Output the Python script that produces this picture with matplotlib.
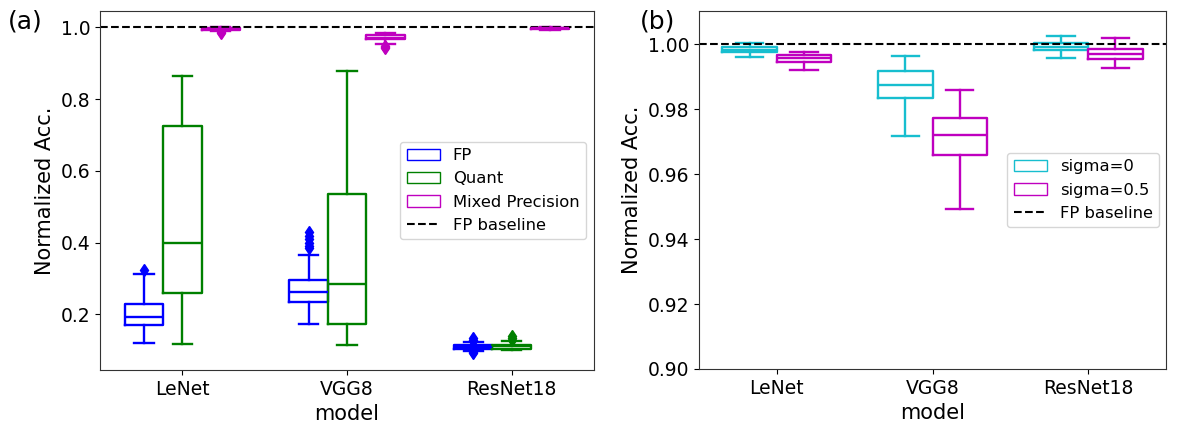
import matplotlib.pyplot as plt
from matplotlib.patches import Patch
from matplotlib.lines import Line2D

models = ["LeNet", "VGG8", "ResNet18"]

# panel (a): box stats per method, one entry per model
fp_whislo = [0.121, 0.174, 0.098]
fp_q1 = [0.170, 0.234, 0.1044]
fp_med = [0.1925, 0.262, 0.109]
fp_q3 = [0.229, 0.296, 0.1136]
fp_whishi = [0.3115, 0.367, 0.123]
fp_fliers = [[0.325], [0.385, 0.392, 0.40, 0.41, 0.42, 0.43], [0.092, 0.095, 0.126, 0.13, 0.133]]

quant_whislo = [0.118, 0.116, 0.100]
quant_q1 = [0.260, 0.174, 0.1025]
quant_med = [0.398, 0.284, 0.111]
quant_q3 = [0.726, 0.537, 0.1155]
quant_whishi = [0.865, 0.879, 0.126]
quant_fliers = [[], [], [0.13, 0.135, 0.14]]

mp_whislo = [0.990, 0.955, 0.994]
mp_q1 = [0.994, 0.967, 0.996]
mp_med = [0.996, 0.972, 0.998]
mp_q3 = [0.998, 0.978, 0.999]
mp_whishi = [1.0, 0.986, 1.0]
mp_fliers = [[0.986, 0.988], [0.942, 0.945, 0.948], []]

# panel (b)
s0_whislo = [0.996, 0.9717, 0.9957]
s0_q1 = [0.9975, 0.9834, 0.9982]
s0_med = [0.9983, 0.9874, 0.9992]
s0_q3 = [0.999, 0.9917, 1.0003]
s0_whishi = [1.0005, 0.9963, 1.0026]

s5_whislo = [0.9919, 0.9491, 0.9927]
s5_q1 = [0.9945, 0.9658, 0.9954]
s5_med = [0.9956, 0.972, 0.9971]
s5_q3 = [0.9966, 0.9773, 0.9985]
s5_whishi = [0.9976, 0.9859, 1.0018]

baseline = 1.0


def make_stats(lo, q1, med, q3, hi, fl=None):
    out = []
    for i in range(len(lo)):
        out.append({"whislo": lo[i], "q1": q1[i], "med": med[i], "q3": q3[i],
                    "whishi": hi[i], "fliers": fl[i] if fl else []})
    return out


def draw(ax, stats, offset, width, color):
    pos = [i + offset for i in range(len(stats))]
    lp = dict(color=color, linewidth=1.7)
    ax.bxp(stats, positions=pos, widths=width, capwidths=width / 2, manage_ticks=False,
           boxprops=lp, whiskerprops=lp, capprops=lp, medianprops=lp,
           flierprops=dict(marker="d", markerfacecolor=color, markeredgecolor=color, markersize=6))


fig = plt.figure(figsize=(11.78, 4.24), dpi=100)
ax1 = fig.add_axes([100 / 1178, 54 / 424, 494 / 1178, 359 / 424])
ax2 = fig.add_axes([699 / 1178, 55 / 424, 467 / 1178, 358 / 424])

w = 0.7 / 3
draw(ax1, make_stats(fp_whislo, fp_q1, fp_med, fp_q3, fp_whishi, fp_fliers), -w, w, "blue")
draw(ax1, make_stats(quant_whislo, quant_q1, quant_med, quant_q3, quant_whishi, quant_fliers), 0, w, "green")
draw(ax1, make_stats(mp_whislo, mp_q1, mp_med, mp_q3, mp_whishi, mp_fliers), w, w, "m")
ax1.axhline(baseline, color="black", linestyle="--", linewidth=1.5)
ax1.set_xlim(-0.5, 2.5)
ax1.set_ylim(0.045, 1.046)
ax1.set_yticks([0.2, 0.4, 0.6, 0.8, 1.0])

w2 = 0.35
draw(ax2, make_stats(s0_whislo, s0_q1, s0_med, s0_q3, s0_whishi), -w2 / 2, w2, "tab:cyan")
draw(ax2, make_stats(s5_whislo, s5_q1, s5_med, s5_q3, s5_whishi), w2 / 2, w2, "m")
ax2.axhline(baseline, color="black", linestyle="--", linewidth=1.5)
ax2.set_xlim(-0.5, 2.5)
ax2.set_ylim(0.90, 1.0102)
ax2.set_yticks([0.90, 0.92, 0.94, 0.96, 0.98, 1.00])

for ax in (ax1, ax2):
    ax.set_xticks(range(len(models)))
    ax.set_xticklabels(models)
    ax.tick_params(labelsize=13.5)
    ax.set_xlabel("model", fontsize=15)
    ax.set_ylabel("Normalized Acc.", fontsize=15)
    for s in ax.spines.values():
        s.set_color("#333333")
ax2.yaxis.set_major_formatter(plt.FormatStrFormatter("%.2f"))

h1 = [Patch(facecolor="none", edgecolor="blue", label="FP"),
      Patch(facecolor="none", edgecolor="green", label="Quant"),
      Patch(facecolor="none", edgecolor="m", label="Mixed Precision"),
      Line2D([], [], color="black", linestyle="--", label="FP baseline")]
ax1.legend(handles=h1, loc="center right", bbox_to_anchor=(1.0, 0.50), fontsize=11.8)
h2 = [Patch(facecolor="none", edgecolor="tab:cyan", label="sigma=0"),
      Patch(facecolor="none", edgecolor="m", label="sigma=0.5"),
      Line2D([], [], color="black", linestyle="--", label="FP baseline")]
ax2.legend(handles=h2, loc="center right", bbox_to_anchor=(1.003, 0.50), fontsize=11.8)

fig.text(8 / 1178, 1 - 22 / 424, "(a)", fontsize=18, va="center")
fig.text(640 / 1178, 1 - 22 / 424, "(b)", fontsize=18, va="center")

fig.savefig("out.png", dpi=100)
